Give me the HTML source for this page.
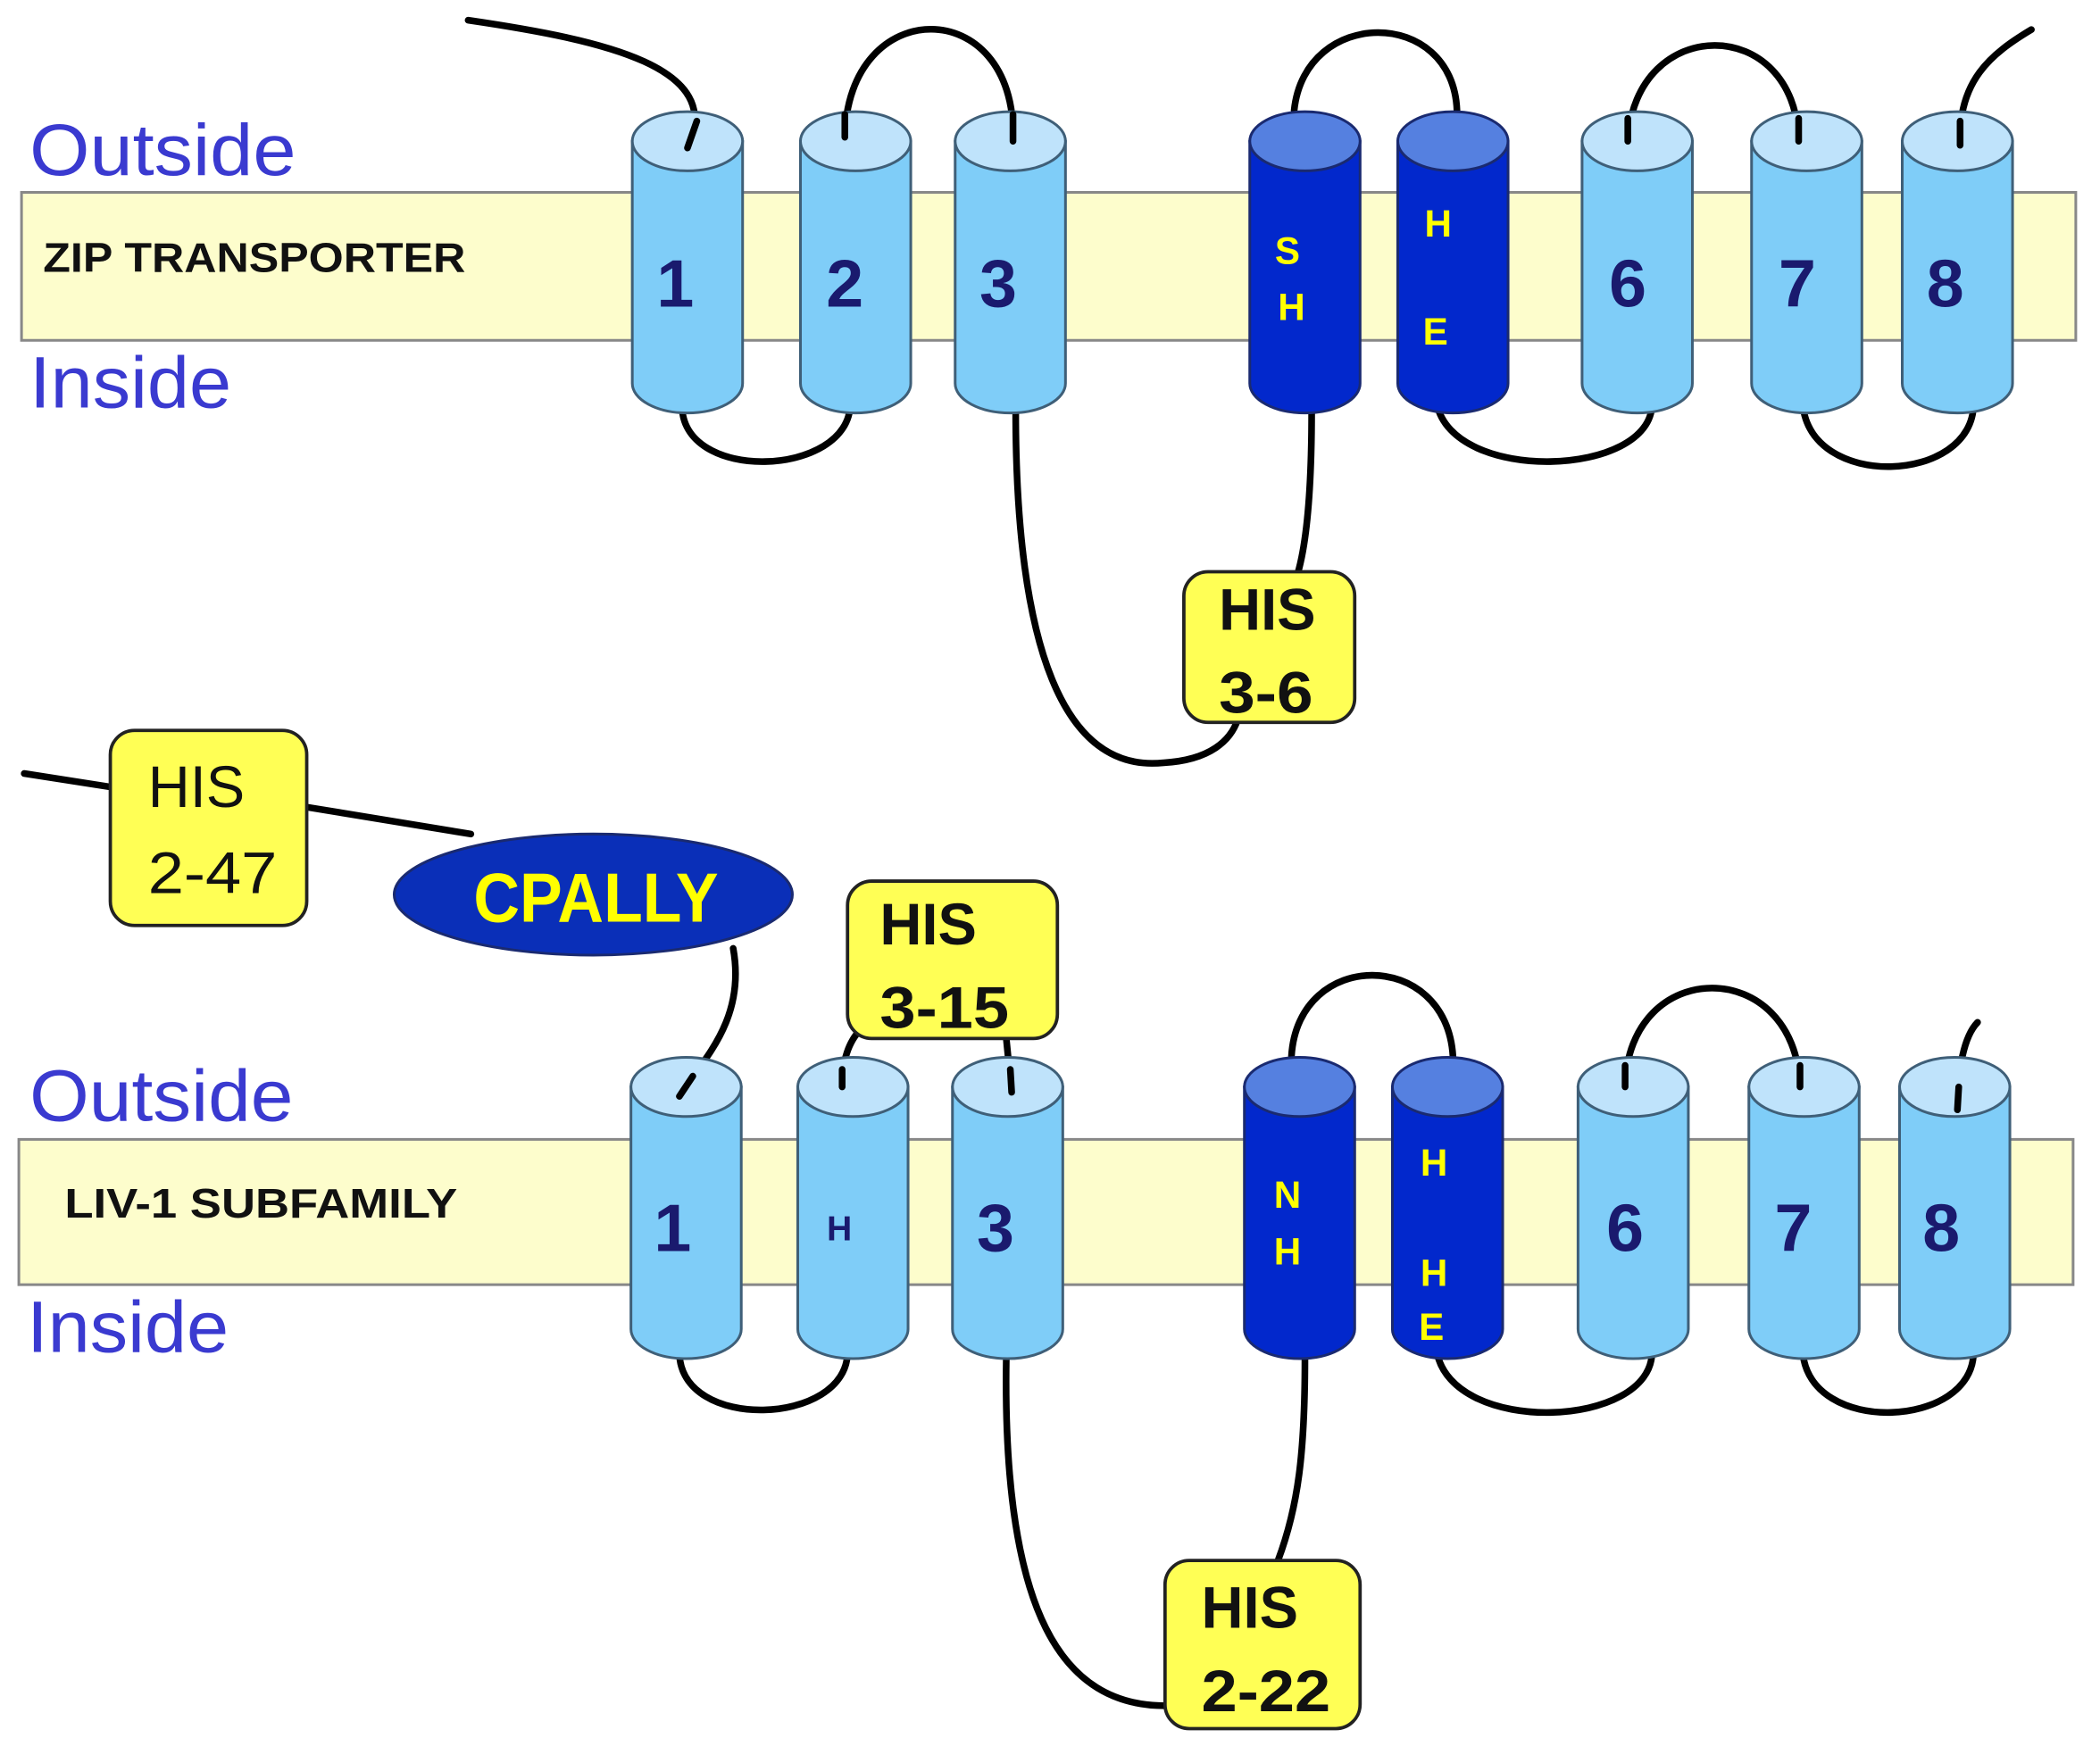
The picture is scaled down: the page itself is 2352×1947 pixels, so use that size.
<!DOCTYPE html>
<html><head><meta charset="utf-8"><style>
html,body{margin:0;padding:0;background:#fff;}
svg{display:block;}
text{font-family:"Liberation Sans",sans-serif;}
</style></head><body>
<svg width="2352" height="1947" viewBox="0 0 1561 1292" preserveAspectRatio="none" xmlns="http://www.w3.org/2000/svg">
<defs>
<g id="cl">
<path d="M-41,0 V180 A41,22 0 0 0 41,180 V0 Z" fill="#7fcdf8" stroke="#3f5f78" stroke-width="2"/>
<ellipse cx="0" cy="0" rx="41" ry="22" fill="#bfe3fb" stroke="#3f5f78" stroke-width="2"/>
</g>
<g id="cd">
<path d="M-41,0 V180 A41,22 0 0 0 41,180 V0 Z" fill="#0228cc" stroke="#1a2a70" stroke-width="2"/>
<ellipse cx="0" cy="0" rx="41" ry="22" fill="#5580e0" stroke="#1a2a70" stroke-width="2"/>
</g>
</defs>
<g fill="none" stroke="#000" stroke-width="5" stroke-linecap="round">
<path d="M348,15 C450,30 540,50 511,110"/>
<path d="M628,102 C630,-5 755,-5 753,102"/>
<path d="M962,82 C970,5 1080,5 1083,82"/>
<path d="M1210,105 C1215,10 1335,10 1337,105"/>
<path d="M1457,108 C1455,60 1480,40 1510,22"/>
<path d="M18,575 L82,585"/><path d="M228,600 L350,620"/>
<path d="M545,705 C555,760 520,790 505,815"/>
<path d="M626,808 C626,790 630,775 640,765"/>
<path d="M752,812 L748,772"/>
<path d="M960,785 C965,705 1075,705 1080,785"/>
<path d="M1208,808 C1210,710 1335,710 1338,808"/>
<path d="M1455,825 C1455,795 1460,770 1470,760"/>
</g>
<rect x="16" y="143" width="1527" height="110" fill="#fdfdcc" stroke="#888" stroke-width="2"/>
<rect x="14" y="847" width="1527" height="108" fill="#fdfdcc" stroke="#888" stroke-width="2"/>
<g fill="none" stroke="#000" stroke-width="5" stroke-linecap="round">
<path d="M507,300 C505,360 632,355 632,300"/>
<path d="M755,305 C755,480 790,575 865,567 C900,565 915,550 920,535"/>
<path d="M975,305 C975,360 972,400 965,425"/>
<path d="M1068,300 C1080,360 1228,355 1228,300"/>
<path d="M1340,300 C1345,365 1467,360 1467,300"/>
<path d="M505,1005 C505,1065 630,1060 630,1005"/>
<path d="M748,1010 C745,1200 790,1268 866,1268"/>
<path d="M970,1010 C970,1080 965,1120 950,1160"/>
<path d="M1068,1005 C1080,1068 1228,1062 1228,1005"/>
<path d="M1340,1005 C1345,1068 1467,1062 1467,1005"/>
</g>
<use href="#cl" x="511" y="105"/><use href="#cl" x="636" y="105"/><use href="#cl" x="751" y="105"/>
<use href="#cd" x="970" y="105"/><use href="#cd" x="1080" y="105"/>
<use href="#cl" x="1217" y="105"/><use href="#cl" x="1343" y="105"/><use href="#cl" x="1455" y="105"/>
<use href="#cl" x="510" y="808"/><use href="#cl" x="634" y="808"/><use href="#cl" x="749" y="808"/>
<use href="#cd" x="966" y="808"/><use href="#cd" x="1076" y="808"/>
<use href="#cl" x="1214" y="808"/><use href="#cl" x="1341" y="808"/><use href="#cl" x="1453" y="808"/>
<g fill="none" stroke="#000" stroke-width="5" stroke-linecap="round">
<path d="M518,90 L511,110"/><path d="M628,85 L628,102"/><path d="M753,85 L753,105"/>
<path d="M1210,88 L1210,105"/><path d="M1337,88 L1337,105"/><path d="M1457,90 L1457,108"/>
<path d="M515,800 L505,815"/><path d="M626,795 L626,808"/><path d="M751,795 L752,812"/>
<path d="M1208,792 L1208,808"/><path d="M1338,792 L1338,808"/><path d="M1456,808 L1455,825"/>
</g>
<g fill="#1a1a6e" font-size="50" font-weight="bold" text-anchor="middle">
<text x="502" y="228">1</text><text x="628" y="228">2</text><text x="742" y="228">3</text>
<text x="1210" y="228">6</text><text x="1336" y="228">7</text><text x="1446" y="228">8</text>
<text x="500" y="930">1</text><text x="740" y="930">3</text>
<text x="1208" y="930">6</text><text x="1333" y="930">7</text><text x="1443" y="930">8</text>
<text x="624" y="922" font-size="26">H</text>
</g>
<g fill="#ffff00" font-size="28" font-weight="bold" text-anchor="middle">
<text x="957" y="196">S</text><text x="960" y="238">H</text>
<text x="1069" y="176">H</text><text x="1067" y="256">E</text>
<text x="957" y="898">N</text><text x="957" y="940">H</text>
<text x="1066" y="874">H</text><text x="1066" y="956">H</text><text x="1064" y="996">E</text>
</g>
<g fill="#3a3ad0" font-size="54">
<text x="22" y="130" textLength="198" lengthAdjust="spacingAndGlyphs">Outside</text>
<text x="22" y="303" textLength="150" lengthAdjust="spacingAndGlyphs">Inside</text>
<text x="22" y="833" textLength="196" lengthAdjust="spacingAndGlyphs">Outside</text>
<text x="20" y="1005" textLength="150" lengthAdjust="spacingAndGlyphs">Inside</text>
</g>
<text x="32" y="202" font-size="31" font-weight="bold" fill="#111" textLength="314" lengthAdjust="spacingAndGlyphs">ZIP TRANSPORTER</text>
<text x="48" y="905" font-size="31" font-weight="bold" fill="#111" textLength="292" lengthAdjust="spacingAndGlyphs">LIV-1 SUBFAMILY</text>
<g fill="#ffff55" stroke="#222" stroke-width="2.5">
<rect x="880" y="425" width="127" height="112" rx="18"/>
<rect x="82" y="543" width="146" height="145" rx="18"/>
<rect x="630" y="655" width="156" height="117" rx="18"/>
<rect x="866" y="1160" width="145" height="125" rx="18"/>
</g>
<g fill="#111" font-size="44" font-weight="bold">
<text x="906" y="468" textLength="72" lengthAdjust="spacingAndGlyphs">HIS</text><text x="906" y="530" textLength="70" lengthAdjust="spacingAndGlyphs">3-6</text>
<text x="654" y="702" textLength="72" lengthAdjust="spacingAndGlyphs">HIS</text><text x="654" y="764" textLength="96" lengthAdjust="spacingAndGlyphs">3-15</text>
<text x="893" y="1210" textLength="72" lengthAdjust="spacingAndGlyphs">HIS</text><text x="893" y="1272" textLength="96" lengthAdjust="spacingAndGlyphs">2-22</text>
</g>
<g fill="#111" font-size="44">
<text x="110" y="600" textLength="72" lengthAdjust="spacingAndGlyphs">HIS</text><text x="110" y="664" textLength="96" lengthAdjust="spacingAndGlyphs">2-47</text>
</g>
<ellipse cx="441" cy="665" rx="148" ry="45" fill="#0a2fb8" stroke="#1a2a70" stroke-width="2"/>
<text x="352" y="685" font-size="52" font-weight="bold" fill="#ffff00" textLength="182" lengthAdjust="spacingAndGlyphs">CPALLY</text>
</svg>
</body></html>
